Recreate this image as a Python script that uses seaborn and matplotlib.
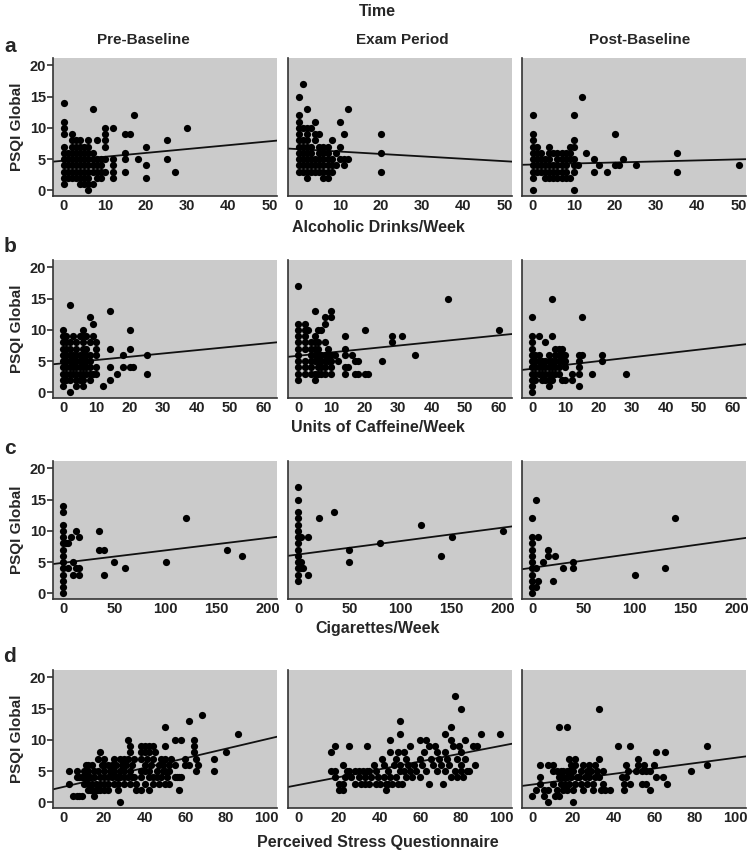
import matplotlib
matplotlib.use("Agg")
import matplotlib.pyplot as plt
import seaborn as sns
import numpy as np
import pandas as pd

# ---------------- data ----------------
periods = ["Pre-Baseline", "Exam Period", "Post-Baseline"]
row_letters = ["a", "b", "c", "d"]
row_xlabels = ["Alcoholic Drinks/Week", "Units of Caffeine/Week",
               "Cigarettes/Week", "Perceived Stress Questionnaire"]
row_xticks = [[0, 10, 20, 30, 40, 50], [0, 10, 20, 30, 40, 50, 60],
              [0, 50, 100, 150, 200], [0, 20, 40, 60, 80, 100]]
y_ticks = [0, 5, 10, 15, 20]

pre_alcohol = [(0,14),(0,11),(0,10),(0,9),(0,7),(0,6),(0,5),(0,4),(0,3),(0,2),(0,1),
    (1,6),(1,5),(1,4),(1,3),(1,2),
    (2,9),(2,8),(2,7),(2,6),(2,5),(2,4),(2,3),(2,2),
    (3,8),(3,7),(3,6),(3,5),(3,4),(3,3),(3,2),
    (4,8),(4,7),(4,6),(4,5),(4,4),(4,3),(4,2),(4,1),
    (5,7),(5,6),(5,5),(5,4),(5,3),(5,2),(5,1),
    (6,8),(6,7),(6,6),(6,5),(6,4),(6,3),(6,2),(6,1),(6,0),
    (7,13),(7,6),(7,5),(7,4),(7,3),(7,1),
    (8,8),(8,5),(8,4),(8,3),(8,2),
    (9,5),(9,4),(9,3),(9,2),
    (10,10),(10,9),(10,8),(10,7),(10,5),(10,3),
    (12,10),(12,5),(12,4),(12,3),(12,2),
    (15,9),(15,6),(15,5),(15,3),(16,9),(17,12),(18,5),
    (20,7),(20,4),(20,2),(25,8),(25,5),(27,3),(30,10)]

exam_alcohol = [(0,15),(0,12),(0,11),(0,10),(0,9),(0,8),(0,7),(0,6),(0,5),(0,4),(0,3),
    (1,17),(1,10),(1,8),(1,7),(1,6),(1,5),(1,4),(1,3),
    (2,13),(2,10),(2,9),(2,8),(2,7),(2,6),(2,5),(2,4),(2,3),(2,2),
    (3,10),(3,7),(3,6),(3,5),(3,4),(3,3),
    (4,11),(4,9),(4,8),(4,5),(4,4),(4,3),
    (5,9),(5,7),(5,6),(5,5),(5,4),(5,3),
    (6,7),(6,6),(6,5),(6,4),(6,3),(6,2),
    (7,7),(7,6),(7,5),(7,4),(7,3),(7,2),
    (8,8),(8,5),(8,4),(8,3),(9,6),(9,4),
    (10,11),(10,7),(10,5),(11,9),(11,5),(11,4),(12,13),(12,5),
    (20,9),(20,6),(20,3)]

post_alcohol = [(0,12),(0,9),(0,8),(0,7),(0,6),(0,5),(0,4),(0,3),(0,2),(0,0),
    (1,7),(1,6),(1,5),(1,4),(1,3),
    (2,6),(2,5),(2,4),(2,3),
    (3,5),(3,4),(3,3),(3,2),
    (4,7),(4,6),(4,5),(4,4),(4,3),(4,2),
    (5,6),(5,4),(5,3),(5,2),
    (6,6),(6,5),(6,4),(6,3),(6,2),
    (7,6),(7,5),(7,4),(7,3),(7,2),
    (8,6),(8,5),(8,4),(8,3),(8,2),
    (9,7),(9,6),(9,5),(9,2),
    (10,12),(10,8),(10,7),(10,5),(10,4),(10,3),(10,0),
    (11,4),(12,15),(13,6),(15,5),(15,3),(16,4),(18,3),
    (20,9),(20,4),(21,4),(22,5),(25,4),(35,6),(35,3),(50,4)]

pre_caffeine = [(0,10),(0,9),(0,8),(0,7),(0,6),(0,5),(0,4),(0,3),(0,2),(0,1),
    (1,9),(1,8),(1,7),(1,6),(1,5),(1,4),(1,3),(1,2),
    (2,14),(2,8),(2,7),(2,6),(2,5),(2,4),(2,3),(2,2),(2,0),
    (3,9),(3,6),(3,5),(3,4),(3,3),
    (4,8),(4,7),(4,6),(4,5),(4,4),(4,3),(4,2),(4,1),
    (5,9),(5,6),(5,5),(5,4),(5,3),(5,2),
    (6,10),(6,9),(6,8),(6,7),(6,6),(6,5),(6,4),(6,3),(6,2),(6,1),
    (7,9),(7,7),(7,6),(7,5),(7,4),(7,3),
    (8,12),(8,8),(8,6),(8,5),(8,4),(8,3),(8,2),
    (9,11),(9,9),(9,3),(10,8),(10,7),(10,6),(10,4),(10,3),
    (12,1),(14,13),(14,7),(14,4),(14,2),(16,3),(18,6),(18,4),
    (20,10),(20,7),(20,4),(21,4),(25,6),(25,3)]

exam_caffeine = [(0,17),(0,11),(0,10),(0,9),(0,8),(0,7),(0,6),(0,5),(0,4),(0,3),(0,2),
    (2,11),(2,10),(2,9),(2,8),(2,7),(2,5),(2,4),(2,3),(3,10),
    (4,8),(4,7),(4,6),(4,5),(4,4),(4,3),
    (5,13),(5,9),(5,8),(5,7),(5,6),(5,5),(5,3),(5,2),
    (6,10),(6,8),(6,7),(6,6),(6,5),(6,4),(6,3),
    (7,10),(7,6),(7,5),(7,4),(7,3),
    (8,12),(8,11),(8,8),(8,6),(8,5),(8,4),(8,3),
    (9,7),(9,6),(9,5),(10,13),(10,12),(10,6),(10,5),(10,4),(10,3),
    (11,6),(12,5),(14,9),(14,7),(14,6),(14,4),(14,3),(15,4),(16,6),
    (17,5),(17,3),(18,5),(18,3),(20,10),(20,3),(21,3),(25,5),
    (28,9),(28,8),(31,9),(35,6),(45,15),(60,10)]

post_caffeine = [(0,12),(0,9),(0,8),(0,7),(0,6),(0,5),(0,4),(0,3),(0,2),(0,1),(0,0),
    (1,6),(1,5),(1,4),(1,3),(1,2),
    (2,9),(2,6),(2,5),(2,4),(2,3),
    (3,5),(3,4),(3,3),(3,2),
    (4,8),(4,5),(4,4),(4,3),(4,2),
    (5,6),(5,5),(5,4),(5,3),(5,2),(5,1),
    (6,15),(6,9),(6,5),(6,4),(6,3),(6,2),
    (7,7),(7,6),(7,5),(7,4),(7,3),
    (8,7),(8,6),(8,5),(8,4),(8,3),
    (9,7),(9,6),(9,5),(9,2),(10,6),(10,5),(10,4),(10,2),
    (12,3),(12,2),(14,6),(14,5),(14,4),(14,3),(14,1),(15,12),(15,6),
    (18,3),(21,6),(21,5),(28,3)]

pre_cigarettes = [(0,14),(0,13),(0,11),(0,10),(0,9),(0,8),(0,7),(0,6),(0,5),(0,4),
    (0,3),(0,2),(0,1),(0,0),(3,8),(5,8),(5,4),(8,9),(10,5),(10,3),(12,10),(12,4),
    (15,9),(15,4),(15,3),(35,10),(35,7),(40,7),(40,3),(50,5),(60,4),(100,5),
    (120,12),(160,7),(175,6)]

exam_cigarettes = [(0,17),(0,15),(0,13),(0,12),(0,11),(0,10),(0,9),(0,8),(0,7),(0,6),
    (0,5),(0,4),(0,3),(0,2),(3,9),(3,5),(3,4),(5,4),(10,9),(10,3),(20,12),(35,13),
    (50,7),(50,5),(80,8),(120,11),(140,6),(150,9),(200,10)]

post_cigarettes = [(0,12),(0,9),(0,8),(0,7),(0,6),(0,5),(0,4),(0,3),(0,2),(0,1),(0,0),
    (4,15),(4,4),(4,1),(6,9),(6,2),(11,5),(15,7),(15,6),(20,2),(22,6),(30,4),
    (40,5),(40,4),(100,3),(130,4),(140,12)]

pre_stress = [(3,5),(3,3),(5,1),(7,1),(8,1),(9,1),(7,5),(7,4),(8,4),(9,4),(10,4),(11,4),
    (12,4),(10,3),(12,3),(12,6),(14,6),(18,8),(17,7),(15,1),(12,2),(13,2),(14,2),
    (16,2),(17,2),(18,2),(20,2),(22,2),(27,2),(28,0),(32,10),(33,8),(50,12),(55,10),
    (58,10),(62,13),(68,14),(64,10),(64,9),(64,8),(86,11),(80,8),(74,7),(74,5),
    (62,6),(66,6),(65,5),(65,7),(57,2),(56,4),(58,4),
    (10,5),(11,6),(12,5),(13,4),(14,3),(15,5),(15,4),(16,3),(17,5),(18,4),(18,3),(19,6),
    (20,7),(20,6),(20,5),(20,4),(20,3),(22,6),(22,4),(22,3),(23,5),(24,6),(24,4),
    (25,7),(25,5),(25,3),(26,6),(26,4),(27,4),(27,3),(28,7),(28,5),(28,4),(29,6),
    (30,7),(30,5),(30,4),(30,3),(31,6),(32,7),(32,4),(33,9),(33,5),(33,3),(34,6),
    (34,4),(35,7),(35,4),(36,3),(36,2),(38,9),(38,8),(38,7),(38,5),(38,4),(38,2),
    (40,9),(40,8),(40,6),(40,5),(40,3),(41,7),(42,9),(42,8),(42,5),(42,4),(42,2),
    (43,6),(44,9),(44,7),(44,4),(44,3),(45,8),(46,5),(46,4),(47,6),(47,3),(48,7),
    (48,4),(49,6),(49,5),(50,9),(50,7),(50,5),(50,3),(51,4),(52,6),(52,5),(52,3),
    (53,7),(55,6),(55,4),(57,4),(60,7),(60,6)]

exam_stress = [(77,17),(80,15),(50,13),(75,12),(50,11),(72,11),(90,11),(99,11),
    (45,10),(60,10),(63,10),(82,10),(18,9),(25,9),(34,9),(16,8),(22,6),(16,5),(18,5),
    (18,4),(20,3),(22,3),(20,2),(22,2),(43,2),(24,5),(26,4),(28,3),(30,5),(30,4),
    (31,3),(33,4),(33,3),(34,5),(35,3),(36,4),(37,6),(38,5),(38,3),(39,4),(40,3),
    (41,7),(42,6),(42,4),(43,3),(44,5),(45,8),(45,4),(46,3),(47,6),(48,7),(48,4),
    (49,8),(49,3),(50,6),(50,5),(51,3),(52,8),(52,5),(53,7),(53,4),(54,6),(55,9),
    (55,5),(56,4),(57,6),(58,5),(60,7),(60,4),(61,6),(62,8),(63,5),(64,9),(64,3),
    (65,7),(66,6),(67,9),(68,8),(68,5),(69,7),(70,6),(71,3),(72,8),(72,5),(73,7),
    (74,6),(75,10),(75,4),(76,9),(77,5),(78,7),(78,4),(79,9),(80,8),(80,6),(80,5),
    (81,4),(82,7),(83,5),(84,5),(86,9),(87,6),(88,9),(25,5),(28,5),(23,4),(32,5),
    (35,5),(44,3)]

post_stress = [(33,15),(13,12),(17,12),(42,9),(48,9),(61,8),(65,8),(86,9),(86,6),
    (78,5),(18,7),(21,7),(33,7),(52,7),(0,1),(2,2),(8,0),(20,0),
    (4,6),(4,4),(4,3),(6,2),(6,1),(8,6),(8,2),(10,6),(10,5),(10,3),(11,1),(12,5),
    (12,2),(13,4),(13,1),(14,5),(14,3),(15,5),(15,4),(15,2),(16,3),(17,5),(17,4),
    (17,2),(18,5),(18,3),(19,6),(19,4),(20,5),(20,2),(21,6),(21,3),(22,4),(23,4),
    (24,5),(24,3),(25,6),(25,2),(26,4),(27,5),(27,3),(28,6),(28,4),(29,5),(30,3),
    (30,2),(31,6),(31,4),(32,5),(33,4),(34,2),(35,5),(35,3),(36,2),(38,2),(44,4),
    (45,3),(45,2),(46,6),(46,4),(47,5),(48,3),(51,5),(52,6),(54,5),(54,3),(55,6),
    (56,5),(56,3),(58,2),(58,5),(60,6),(61,4),(64,4),(66,3)]

# regression lines (intercept, slope)
line_intercepts = [[4.76, 6.6, 4.14], [4.66, 5.86, 3.78], [4.9, 6.23, 4.1], [2.47, 2.78, 2.85]]
line_slopes = [[0.062, -0.0385, 0.0165], [0.0525, 0.0545, 0.0615],
               [0.0199, 0.0215, 0.0229], [0.0766, 0.063, 0.043]]

panels = [[pre_alcohol, exam_alcohol, post_alcohol],
          [pre_caffeine, exam_caffeine, post_caffeine],
          [pre_cigarettes, exam_cigarettes, post_cigarettes],
          [pre_stress, exam_stress, post_stress]]

# ---------------- style / layout ----------------
sns.set_theme(style="white")
plt.rcParams['font.family'] = ['Liberation Sans', 'DejaVu Sans']

W, H = 750, 861
fig = plt.figure(figsize=(W / 100, H / 100), dpi=100)

col_left_px = [53, 288, 522]
col_w_px = 224
row_top_px = [58, 260, 461, 670]
row_h_px = 138
row_xlims = [(-2.6, 51.8), (-3, 64), (-10, 209), (-5, 105)]
ylim = (-0.9, 21.2)
bg = "#cbcbcb"

for r in range(4):
    for c in range(3):
        l = col_left_px[c] / W
        b = 1 - (row_top_px[r] + row_h_px) / H
        ax = fig.add_axes([l, b, col_w_px / W, row_h_px / H])
        ax.set_facecolor(bg)
        df = pd.DataFrame(panels[r][c], columns=["x", "y"])
        sns.scatterplot(data=df, x="x", y="y", ax=ax, color="black", s=27,
                        edgecolor="black", linewidth=0, zorder=3)
        xl = np.array(row_xlims[r])
        ax.plot(xl, line_intercepts[r][c] + line_slopes[r][c] * xl,
                color="#111111", lw=1.3, zorder=2)
        ax.set_xlim(*row_xlims[r])
        ax.set_ylim(*ylim)
        ax.set_xticks(row_xticks[r])
        ax.set_xlabel("")
        ax.set_ylabel("")
        for s in ["top", "right"]:
            ax.spines[s].set_visible(False)
        for s in ["left", "bottom"]:
            ax.spines[s].set_color("#333333")
            ax.spines[s].set_linewidth(1.2)
        ax.tick_params(axis="x", length=1.5, width=1, color="#333333", pad=1,
                       labelsize=10.5)
        if c == 0:
            ax.set_yticks(y_ticks)
            ax.tick_params(axis="y", length=4, width=1.2, color="#333333",
                           pad=1, labelsize=10.5, left=True)
            ax.set_ylabel("PSQI Global", fontsize=11, fontweight="bold", labelpad=4)
        else:
            ax.set_yticks([])
        for lab in ax.get_xticklabels() + ax.get_yticklabels():
            lab.set_fontweight("bold")
            lab.set_color("#222222")

# titles & labels
fig.text(377 / W, 1 - 12 / H, "Time", ha="center", va="center",
         fontsize=11.5, fontweight="bold")
title_x_px = [143, 402, 640]
for c in range(3):
    fig.text(title_x_px[c] / W, 1 - 40 / H, periods[c], ha="center", va="center",
             fontsize=11, fontweight="bold")

letter_y_px = [47, 247, 448, 657]
xlabel_y_px = [227, 428, 628, 843]
for r in range(4):
    fig.text(10 / W, 1 - letter_y_px[r] / H, row_letters[r], ha="center",
             va="center", fontsize=15, fontweight="bold")
    fig.text(378 / W, 1 - xlabel_y_px[r] / H, row_xlabels[r], ha="center",
             va="center", fontsize=11.5, fontweight="bold")

fig.savefig("out.png", dpi=100, facecolor="white")
